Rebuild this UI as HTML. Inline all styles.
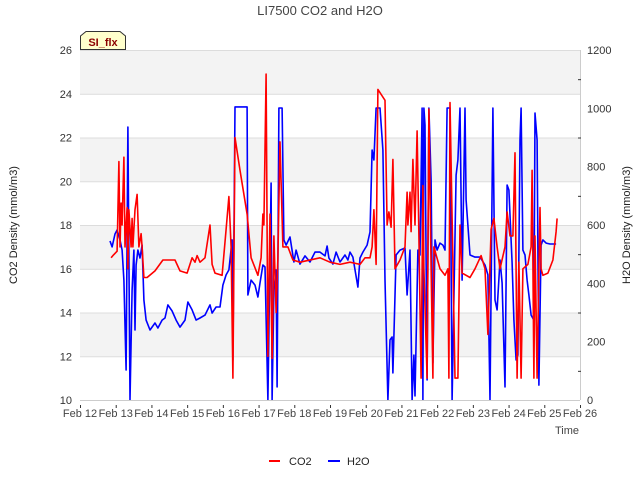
<!DOCTYPE html>
<html><head><meta charset="utf-8">
<style>
body{margin:0;background:#fff;}
svg{display:block;font-family:"Liberation Sans","DejaVu Sans",sans-serif;}
</style></head>
<body>
<svg id="chart" width="640" height="480" viewBox="0 0 640 480">
<text x="320" y="15" text-anchor="middle" font-size="13" fill="#444">LI7500 CO2 and H2O</text>
<g id="bands"></g>
<g id="grid"></g>
<g id="series"></g>
<g id="axes"></g>
<text transform="translate(17,225) rotate(-90)" text-anchor="middle" font-size="11" fill="#222">CO2 Density (mmol/m3)</text>
<text transform="translate(630,225) rotate(-90)" text-anchor="middle" font-size="11" fill="#222">H2O Density (mmol/m3)</text>
<text x="579" y="434" text-anchor="end" font-size="11" fill="#444">Time</text>
<g>
<path d="M80.5,49.5 L80.5,36 L86,31.5 L120,31.5 L125.5,36 L125.5,49.5 Z" fill="#ffffcc" stroke="#333" stroke-width="1"/>
<text x="103" y="46" text-anchor="middle" font-size="11" font-weight="bold" fill="#8b0000">SI_flx</text>
</g>
<g>
<g>
<line x1="269" y1="461" x2="280" y2="461" stroke="red" stroke-width="2"/>
<text x="289" y="465" font-size="11" fill="#222">CO2</text></g>
<g>
<line x1="328" y1="461" x2="340" y2="461" stroke="blue" stroke-width="2"/>
<text x="347" y="465" font-size="11" fill="#222">H2O</text></g>
</g>
</svg>
<script>
const xTickLabels=["Feb 12","Feb 13","Feb 14","Feb 15","Feb 16","Feb 17","Feb 18","Feb 19","Feb 20","Feb 21","Feb 22","Feb 23","Feb 24","Feb 25","Feb 26"];
const leftTicks=[10,12,14,16,18,20,22,24,26];
const rightTicks=[0,200,400,600,800,1000,1200];
// CO2: day offset from Feb 12, value
const co2Days=[0.87,0.92,1.04,1.09,1.12,1.15,1.18,1.23,1.26,1.32,1.34,1.37,1.43,1.46,1.48,1.54,1.60,1.65,1.71,1.74,1.79,1.88,2.10,2.32,2.66,2.80,3.00,3.14,3.22,3.28,3.36,3.50,3.64,3.70,3.78,3.98,4.09,4.17,4.23,4.28,4.34,4.48,4.68,4.79,4.98,5.07,5.12,5.15,5.21,5.26,5.32,5.38,5.43,5.49,5.54,5.60,5.68,5.82,5.96,6.16,6.72,7.00,7.28,7.56,7.84,7.98,8.12,8.18,8.23,8.29,8.34,8.54,8.60,8.65,8.71,8.76,8.82,8.96,9.10,9.16,9.18,9.24,9.27,9.32,9.38,9.44,9.49,9.55,9.60,9.63,9.72,9.77,9.83,9.88,9.91,10.08,10.22,10.30,10.33,10.36,10.50,10.58,10.64,10.70,10.92,11.06,11.23,11.34,11.42,11.51,11.59,11.68,11.76,11.90,11.96,12.04,12.12,12.18,12.24,12.29,12.35,12.40,12.54,12.63,12.66,12.71,12.74,12.80,12.88,12.91,12.96,13.10,13.24,13.33,13.36];
const co2Vals=[16.5,16.6,16.8,20.9,17,19,18,21.1,17,18.8,16,18.7,17,18.3,17,18.7,19.4,17,17.6,17,15.6,15.6,15.9,16.4,16.4,15.9,15.8,16.5,16.3,16.6,16.3,16.5,18,16.2,15.8,15.7,17.8,19.3,17,11,22,20.5,18.5,16.5,15.7,16.5,18.5,18,24.9,12,18.5,11.9,17.5,14,16.5,21.8,17,17,16.4,16.3,16.5,16.3,16.2,16.3,16.2,16.5,16.5,17,18.7,16.2,24.2,23.7,18,18.6,17.9,21,16,16.4,17,19.5,18,19.5,17.7,21,18,22.3,17.5,11,19.8,16,11,23.3,16,11,17,16,15.7,16,11,23.6,11,11,18,15.8,15.6,16,16.6,16,13,17.8,18.3,17,16,17,18.6,17.5,17.5,21.3,11,16.3,11,16,16.2,17,20.5,11,17.5,11,18.8,16,15.7,15.8,16.4,17.7,18.3];
// H2O: day offset, value
const h2oDays=[0.84,0.90,0.98,1.04,1.12,1.18,1.23,1.29,1.34,1.40,1.46,1.51,1.54,1.57,1.62,1.68,1.74,1.79,1.85,1.96,2.10,2.18,2.30,2.38,2.46,2.58,2.69,2.80,2.94,3.02,3.14,3.25,3.36,3.50,3.64,3.70,3.81,3.92,4.00,4.09,4.17,4.26,4.28,4.34,4.68,4.70,4.79,4.90,4.98,5.04,5.12,5.18,5.26,5.35,5.38,5.43,5.49,5.52,5.57,5.66,5.71,5.77,5.88,5.99,6.05,6.16,6.30,6.44,6.58,6.72,6.86,6.92,6.97,7.08,7.17,7.28,7.42,7.50,7.56,7.64,7.78,7.84,7.92,8.04,8.12,8.18,8.23,8.29,8.40,8.48,8.54,8.62,8.68,8.74,8.76,8.85,8.96,9.10,9.16,9.24,9.30,9.35,9.38,9.46,9.52,9.58,9.60,9.63,9.66,9.72,9.77,9.83,9.88,9.94,10.00,10.08,10.16,10.22,10.28,10.36,10.42,10.53,10.58,10.64,10.70,10.78,10.81,10.92,11.06,11.20,11.34,11.42,11.48,11.56,11.62,11.68,11.76,11.82,11.90,11.96,12.01,12.10,12.15,12.21,12.26,12.32,12.35,12.40,12.46,12.52,12.57,12.63,12.71,12.74,12.80,12.85,12.91,12.96,13.05,13.16,13.33];
const h2oVals=[545,525,569,583,549,514,411,103,936,0,377,514,240,463,514,487,531,343,274,240,264,247,274,281,326,305,274,250,274,336,309,274,281,291,326,298,319,319,394,429,446,549,137,1005,1005,360,411,394,353,401,463,456,0,744,0,377,446,45,1001,1001,549,531,559,473,514,466,494,473,507,507,494,528,487,466,507,473,497,480,507,490,387,487,507,531,576,857,823,1001,1001,857,411,0,206,216,93,497,514,521,360,514,0,154,14,514,497,1001,0,1001,943,69,1001,754,127,549,514,538,531,514,1001,1001,0,771,823,1001,411,1001,686,497,490,490,463,429,0,1001,343,309,480,401,45,737,720,470,274,137,154,891,1001,514,497,411,360,291,274,984,891,51,531,549,538,535,535];

const NS="http://www.w3.org/2000/svg";
const L=80,R=580,T=50,B=400;
const xs=d=>L+d*(R-L)/14;
const yL=v=>B-(v-10)*(B-T)/16;
const yR=v=>B-v*(B-T)/1200;
function mk(tag,attrs,parent){const e=document.createElementNS(NS,tag);for(const k in attrs)e.setAttribute(k,attrs[k]);parent.appendChild(e);return e;}
const bands=document.getElementById('bands'),grid=document.getElementById('grid'),axes=document.getElementById('axes'),series=document.getElementById('series');
[12,16,20,24].forEach(v=>{
  const r=mk('rect',{x:L,y:yL(v+2),width:R-L,height:yL(v)-yL(v+2),fill:'#f3f3f3'},bands);
  
  
});
leftTicks.forEach(v=>{
  const g=mk('line',{x1:L,x2:R,y1:yL(v)+0.5,y2:yL(v)+0.5,stroke:'#dcdcdc','stroke-width':1},grid);
  
  
  const t=mk('text',{x:L-8,y:yL(v)+4,'text-anchor':'end','font-size':11,fill:'#333'},axes);
  t.textContent=v;
  
  
});
mk('line',{x1:R+0.5,x2:R+0.5,y1:T,y2:B,stroke:'#ccc'},axes);
mk('line',{x1:L,x2:R,y1:B+0.5,y2:B+0.5,stroke:'#ccc'},axes);
for(let v=100;v<1200;v+=200){
  mk('line',{x1:R-2,x2:R+1,y1:yR(v)+0.5,y2:yR(v)+0.5,stroke:'#333'},axes);
}
rightTicks.forEach(v=>{
  const t=mk('text',{x:R+7,y:yR(v)+4,'font-size':11,fill:'#333'},axes);
  t.textContent=v;
  
  
});
xTickLabels.forEach((s,i)=>{
  mk('line',{x1:xs(i)+0.5,x2:xs(i)+0.5,y1:B+5,y2:B+8,stroke:'#333'},axes);
  const t=mk('text',{x:xs(i),y:B+17,'text-anchor':'middle','font-size':11,fill:'#444'},axes);
  t.textContent=s;
  
  
});
function line(days,vals,yf,color,name){
  const d=days.map((x,i)=>(i?'L':'M')+xs(x).toFixed(1)+','+yf(vals[i]).toFixed(1)).join('');
  const p=mk('path',{d:d,fill:'none',stroke:color,'stroke-width':1.6,'stroke-linejoin':'round'},series);
  
  
}
line(h2oDays,h2oVals,yR,'blue','h2o-line');
line(co2Days,co2Vals,yL,'red','co2-line');
</script>
</body></html>
